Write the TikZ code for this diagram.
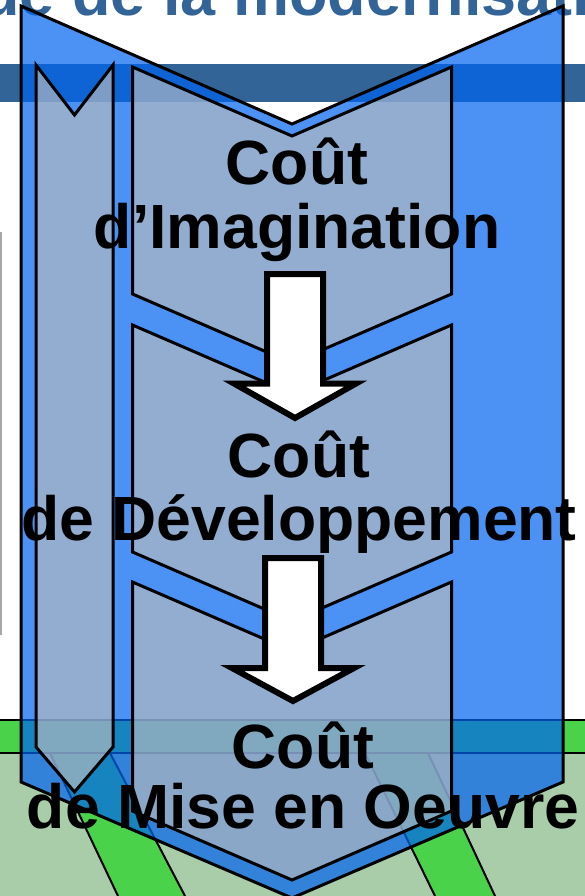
\documentclass[tikz,border=0pt]{standalone}
\usepackage{fontspec}
\setmainfont{Liberation Sans}
\definecolor{titleblue}{RGB}{51,100,152}
\definecolor{chevblue}{RGB}{0,100,240}
\definecolor{chevgray}{RGB}{190,190,190}
\definecolor{grassbright}{RGB}{74,210,74}
\definecolor{grasslight}{RGB}{169,204,169}
\tikzset{
  bigchev/.style={fill=chevblue, fill opacity=0.7, draw=black, line width=3pt, line join=miter},
  graychev/.style={fill=chevgray, fill opacity=0.63, draw=black, line width=3pt, line join=miter},
  blockarrow/.style={fill=white, draw=black, line width=6pt, line join=miter},
  costtext/.style={anchor=base, text=black, font=\fontsize{62.5}{62.5}\selectfont\bfseries, inner sep=0pt},
  groundline/.style={draw=black, line width=2pt},
}
\begin{document}
\begin{tikzpicture}[x=1pt,y=-1pt]
\useasboundingbox (0,0) rectangle (585,896);
\clip (0,0) rectangle (585,896);
\fill[white] (0,0) rectangle (585,896);
% slide background
\node[anchor=base west, text=titleblue, inner sep=0pt, font=\fontsize{63}{63}\selectfont\bfseries] (title) at (-19,16) {ue de la modernisati};
\fill[titleblue] (0,64) rectangle (585,102);
\draw[gray!70, line width=2pt] (1,232) -- (1,635);
% green ground
\fill[grasslight] (0,753) rectangle (585,896);
\fill[grassbright] (0,720) rectangle (585,753);
\fill[grassbright] (50,753) -- (110,753) -- (185,896) -- (118,896) -- cycle;
\fill[grassbright] (365,753) -- (428,753) -- (495,896) -- (435,896) -- cycle;
\draw[groundline] (0,720) -- (585,720);
\draw[groundline] (0,753) -- (585,753);
\draw[groundline] (50,753) -- (118,896);
\draw[groundline] (110,753) -- (185,896);
\draw[groundline] (365,753) -- (435,896);
\draw[groundline] (428,753) -- (495,896);
% big chevron
\path[bigchev] (21,6) -- (292,124) -- (563,6) -- (563,782) -- (292,898) -- (21,782) -- cycle;
% small chevron
\path[graychev] (36,65) -- (74.5,115) -- (113,65) -- (113,747) -- (74.5,792) -- (36,747) -- cycle;
% stacked chevrons
\path[graychev] (132.5,67) -- (292,136) -- (451.5,67) -- (451.5,294) -- (292,363) -- (132.5,294) -- cycle;
\path[graychev] (132.5,325) -- (292,394) -- (451.5,325) -- (451.5,552) -- (292,621) -- (132.5,552) -- cycle;
\path[graychev] (132.5,582) -- (292,651) -- (451.5,582) -- (451.5,811) -- (292,880) -- (132.5,811) -- cycle;
% block arrows
\path[blockarrow] (267,274) -- (323,274) -- (323,383.5) -- (356,383.5) -- (295,418) -- (234,383.5) -- (267,383.5) -- cycle;
\path[blockarrow] (265,558) -- (321,558) -- (321,668) -- (354,668) -- (293,701) -- (232,668) -- (265,668) -- cycle;
% texts
\node[costtext] (c1a) at (297,185) {Coût};
\node[costtext] (c1b) at (297,248) {d’Imagination};
\node[costtext] (c2a) at (299,477) {Coût};
\node[costtext] (c2b) at (299,540) {de Développement};
\node[costtext] (c3a) at (303,768) {Coût};
\node[costtext] (c3b) at (303,828) {de Mise en Oeuvre};
\end{tikzpicture}
\end{document}
